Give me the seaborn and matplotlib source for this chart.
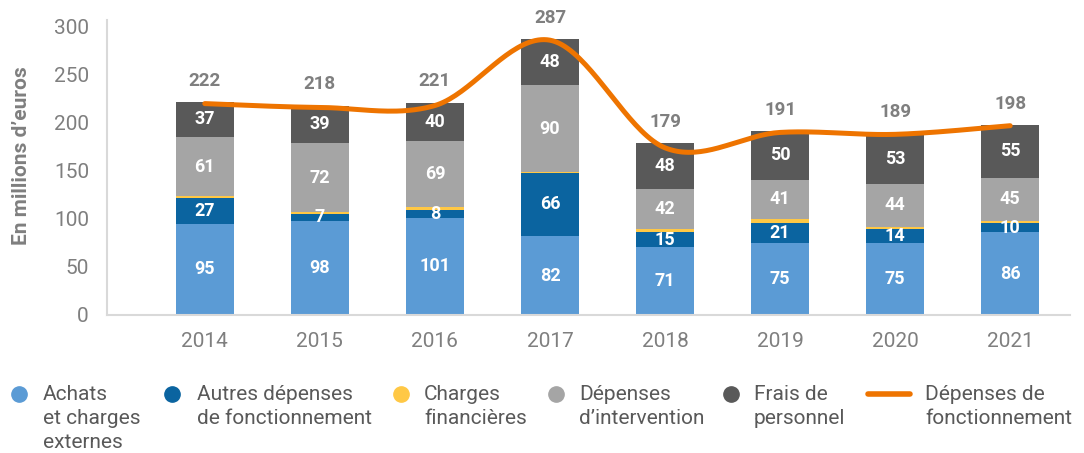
import numpy as np
import pandas as pd
import matplotlib
matplotlib.use("Agg")
import matplotlib.pyplot as plt
from matplotlib.lines import Line2D
import seaborn as sns

years = [2014, 2015, 2016, 2017, 2018, 2019, 2020, 2021]
achats = [95, 98, 101, 82, 71, 75, 75, 86]
autres = [27, 7, 8, 66, 15, 21, 14, 10]
charges_fin = [2, 2, 3, 1, 3, 4, 3, 2]
intervention = [61, 72, 69, 90, 42, 41, 44, 45]
personnel = [37, 39, 40, 48, 48, 50, 53, 55]
totals = [222, 218, 221, 287, 179, 191, 189, 198]
fonctionnement = [220, 216, 218, 286, 174, 190, 188, 197]

series_names = ["Achats\net charges\nexternes", "Autres dépenses\nde fonctionnement",
                "Charges\nfinancières", "Dépenses\nd’intervention", "Frais de\npersonnel"]
line_name = "Dépenses de\nfonctionnement"
colors = ["#5B9BD5", "#0B64A0", "#FFC845", "#A5A5A5", "#595959"]
line_color = "#EE7400"

series_vals = [achats, autres, charges_fin, intervention, personnel]
rows = []
for name, vals in zip(series_names, series_vals):
    for y, v in zip(years, vals):
        rows.append({"year": y, "value": v, "cat": name})
df = pd.DataFrame(rows)

sns.set_theme(style="white")
plt.rcParams["font.family"] = ["Roboto", "DejaVu Sans"]

fig = plt.figure(figsize=(10.84, 4.53), dpi=100)
ax = fig.add_axes([107/1084, 1-315/453, (1070-107)/1084, (315-20)/453])

sns.histplot(data=df, x="year", weights="value", hue="cat",
             hue_order=series_names[::-1], multiple="stack", discrete=True,
             shrink=0.5, palette=dict(zip(series_names, colors)),
             linewidth=0, alpha=1, legend=False, ax=ax)

# smooth line (Excel-like Bezier smoothing through data points)
xs = np.array(years, dtype=float)
ys = np.array(fonctionnement, dtype=float)
px, py = [], []
n = len(xs)
t = np.linspace(0, 1, 40)
for i in range(n - 1):
    p0 = np.array([xs[max(i-1, 0)], ys[max(i-1, 0)]])
    p1 = np.array([xs[i], ys[i]])
    p2 = np.array([xs[i+1], ys[i+1]])
    p3 = np.array([xs[min(i+2, n-1)], ys[min(i+2, n-1)]])
    c1 = p1 + (p2 - p0) / 6
    c2 = p2 - (p3 - p1) / 6
    b = ((1-t)**3)[:, None]*p1 + (3*(1-t)**2*t)[:, None]*c1 + (3*(1-t)*t**2)[:, None]*c2 + (t**3)[:, None]*p2
    px.extend(b[:, 0]); py.extend(b[:, 1])
ax.plot(px, py, color=line_color, lw=3.6, solid_capstyle="round", zorder=5)

# segment labels
bottoms = np.zeros(len(years))
for idx, vals in enumerate(series_vals):
    vals = np.array(vals, dtype=float)
    if idx != 2:
        for x, b, v in zip(years, bottoms, vals):
            ax.text(x, b + v/2, f"{int(v)}", ha="center", va="center",
                    color="white", fontsize=13, fontweight="bold", zorder=6)
    bottoms += vals

for x, b, tot in zip(years, bottoms, totals):
    ax.text(x, b + 22, f"{tot}", ha="center", va="center", color="#7F7F7F",
            fontsize=13.5, fontweight="bold", clip_on=False, zorder=6)

ax.set_xlim(2014-0.85, 2021+0.52)
ax.set_ylim(0, 307)
ax.set_yticks([0, 50, 100, 150, 200, 250, 300])
ax.set_xticks(years)
ax.tick_params(axis="both", length=0, labelsize=15, labelcolor="#7F7F7F")
ax.tick_params(axis="y", pad=13)
ax.tick_params(axis="x", pad=12)
ax.set_xlabel("")
ax.set_ylabel("En millions d’euros", fontsize=15, fontweight="bold", color="#7F7F7F")
ax.yaxis.set_label_coords(-0.079, 0.54)
for s in ["top", "right"]:
    ax.spines[s].set_visible(False)
for s in ["left", "bottom"]:
    ax.spines[s].set_color("#D9D9D9")
    ax.spines[s].set_linewidth(1.5)

# legend
H = 453
marker_x = [19, 172, 401, 556, 731]
text_x = [43, 197, 424, 579, 754]
y0 = 394
for mx, tx, name, col in zip(marker_x, text_x, series_names, colors):
    fig.add_artist(Line2D([mx/1084], [1-y0/H], marker="o", markersize=11,
                          color=col, linestyle="none", transform=fig.transFigure))
    for k, line in enumerate(name.split("\n")):
        fig.text(tx/1084, 1-(y0+24*k)/H, line, ha="left", va="center",
                 fontsize=15, color="#595959")
fig.add_artist(Line2D([868/1084, 910/1084], [1-y0/H, 1-y0/H], color=line_color,
                      lw=4, transform=fig.transFigure))
for k, line in enumerate(line_name.split("\n")):
    fig.text(925/1084, 1-(y0+24*k)/H, line, ha="left", va="center",
             fontsize=15, color="#595959")

fig.savefig("out.png", dpi=100)
